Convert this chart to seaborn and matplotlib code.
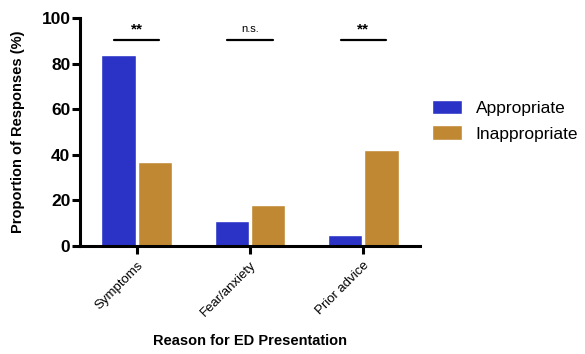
import numpy as np
import pandas as pd
import matplotlib
matplotlib.use("Agg")
import matplotlib.pyplot as plt
import seaborn as sns

# data
reasons = ["Symptoms", "Fear/anxiety", "Prior advice"]
appropriate = [84, 11, 5]
inappropriate = [37, 18, 42]
significance = ["**", "n.s.", "**"]
sig_height = 90.5

df = pd.DataFrame({
    "Reason": reasons * 2,
    "Group": ["Appropriate"] * 3 + ["Inappropriate"] * 3,
    "Value": appropriate + inappropriate,
})

sns.set_style("white")
plt.rcParams["font.family"] = ["Liberation Sans", "DejaVu Sans"]
plt.rcParams["text.color"] = "black"
plt.rcParams["axes.labelcolor"] = "black"
plt.rcParams["xtick.color"] = "black"
plt.rcParams["ytick.color"] = "black"

fig = plt.figure(figsize=(5.85, 3.54), dpi=100)
ax = fig.add_axes([0.137, 0.305, 0.581, 0.644])

sns.barplot(data=df, x="Reason", y="Value", hue="Group",
            palette=["#2B33C6", "#C08832"], width=0.64, gap=0.05,
            saturation=1, ax=ax)

ax.set_xlim(-0.5, 2.5)
ax.set_ylim(0, 100)
ax.set_yticks([0, 20, 40, 60, 80, 100])
ax.set_yticklabels(["0", "20", "40", "60", "80", "100"], fontsize=12.5, fontweight="bold")
ax.set_xticks(range(3))
ax.set_xticklabels(reasons, rotation=45, ha="right", rotation_mode="anchor", fontsize=9.5)

ax.set_ylabel("Proportion of Responses (%)", fontsize=10.5, fontweight="bold", labelpad=12)
ax.set_xlabel("Reason for ED Presentation", fontsize=10.5, fontweight="bold", labelpad=11)

sns.despine(ax=ax)
for s in ["left", "bottom"]:
    ax.spines[s].set_linewidth(2.2)
    ax.spines[s].set_color("black")
ax.tick_params(axis="both", direction="out", length=6, width=2.2, color="black", left=True, bottom=True)
ax.tick_params(axis="y", pad=1)

# significance bars
for i, lab in enumerate(significance):
    ax.plot([i - 0.2, i + 0.2], [sig_height, sig_height], color="black", lw=1.6, clip_on=False)
    if lab == "**":
        ax.text(i, sig_height + 1.5, lab, ha="center", va="bottom", fontsize=11, fontweight="bold")
    else:
        ax.text(i, sig_height + 2.5, lab, ha="center", va="bottom", fontsize=8)

ax.legend(loc="center left", bbox_to_anchor=(0.99, 0.55), frameon=False,
          fontsize=12.5, handlelength=1.7, handleheight=0.9, handletextpad=0.8,
          labelspacing=0.55)

fig.savefig("out.png", dpi=100)
